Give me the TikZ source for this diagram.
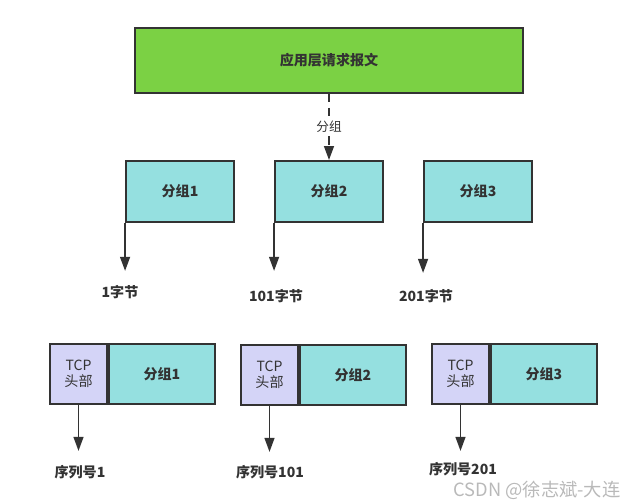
\documentclass[tikz,border=0pt]{standalone}
\usepackage{fontspec}
\setmainfont{Noto Sans CJK SC}
\usetikzlibrary{arrows.meta, positioning}
\definecolor{msggreen}{HTML}{7BD144}
\definecolor{pktcyan}{HTML}{95E0E0}
\definecolor{hdrblue}{HTML}{D4D4F7}
\definecolor{edgegray}{HTML}{333333}
\tikzset
{%
msg/.style={draw=edgegray, fill=msggreen, line width=1.3pt, minimum width=9.7cm, minimum height=1.625cm, font=\bfseries, text=edgegray},
pkt/.style={draw=edgegray, fill=pktcyan, line width=1.3pt, minimum width=2.7cm, minimum height=1.525cm, font=\bfseries, text=edgegray},
seg/.style={pkt, minimum width=2.65cm, minimum height=1.5cm},
hdr/.style={draw=edgegray, fill=hdrblue, line width=1.3pt, minimum width=1.425cm, minimum height=1.5cm, inner sep=0pt, align=center, text=edgegray, font=\linespread{0.95}\selectfont},
lbl/.style={font=\bfseries, text=edgegray},
link/.style={-{Triangle[width=7pt, length=10pt]}, line width=1.3pt, color=edgegray}
}

\begin{document}
\begin{tikzpicture}[x=0.025cm, y=-0.025cm, font=\fontsize{9}{11}\selectfont]
	\useasboundingbox (0,0) rectangle (640,504);

		% [MESSAGE]
		\node[msg] (msg) at (329,60.5) {应用层请求报文};

		% [PACKETS]
		\node[pkt] (pkt1) at (180,191.5) {分组1};
		\node[pkt] (pkt2) at (329,191.5) {分组2};
		\node[pkt] (pkt3) at (478,191.5) {分组3};

		\coordinate[below=1.2cm of pkt1.south west] (b1);
		\coordinate[below=1.2cm of pkt2.south west] (b2);
		\coordinate[below=1.25cm of pkt3.south west] (b3);
		\node[lbl] (w1) at (120,292) {1字节};
		\node[lbl] (w2) at (276,296) {101字节};
		\node[lbl] (w3) at (426,296) {201字节};

		% [SEGMENTS]
		\node[hdr] (hdr1) at (78.5,374) {TCP\\头部};
		\node[seg, right=0pt of hdr1] (seg1) {分组1};
		\node[hdr] (hdr2) at (269.5,375) {TCP\\头部};
		\node[seg, right=0pt of hdr2] (seg2) {分组2};
		\node[hdr] (hdr3) at (460.5,374) {TCP\\头部};
		\node[seg, right=0pt of hdr3] (seg3) {分组3};

		\coordinate[below=1.15cm of hdr1.south] (s1);
		\coordinate[below=1.15cm of hdr2.south] (s2);
		\coordinate[below=1.15cm of hdr3.south] (s3);
		\node[lbl] (n1) at (80,472) {序列号1};
		\node[lbl] (n2) at (270,472) {序列号101};
		\node[lbl] (n3) at (463,469) {序列号201};

		% watermark
		\node[text=gray!55, font=\fontsize{13}{14}\selectfont] (mark) at (537,490) {CSDN @徐志斌-大连};

		\path (msg) edge[link, dash pattern=on 6pt off 4pt] node[fill=white, text=edgegray, inner sep=1pt] {分组} (pkt2);
		\path (pkt1.south west) edge[link] (b1)
		(pkt2.south west) edge[link] (b2)
		(pkt3.south west) edge[link] (b3);
		\path (hdr1) edge[link] (s1) (hdr2) edge[link] (s2) (hdr3) edge[link] (s3);
\end{tikzpicture}
\end{document}
